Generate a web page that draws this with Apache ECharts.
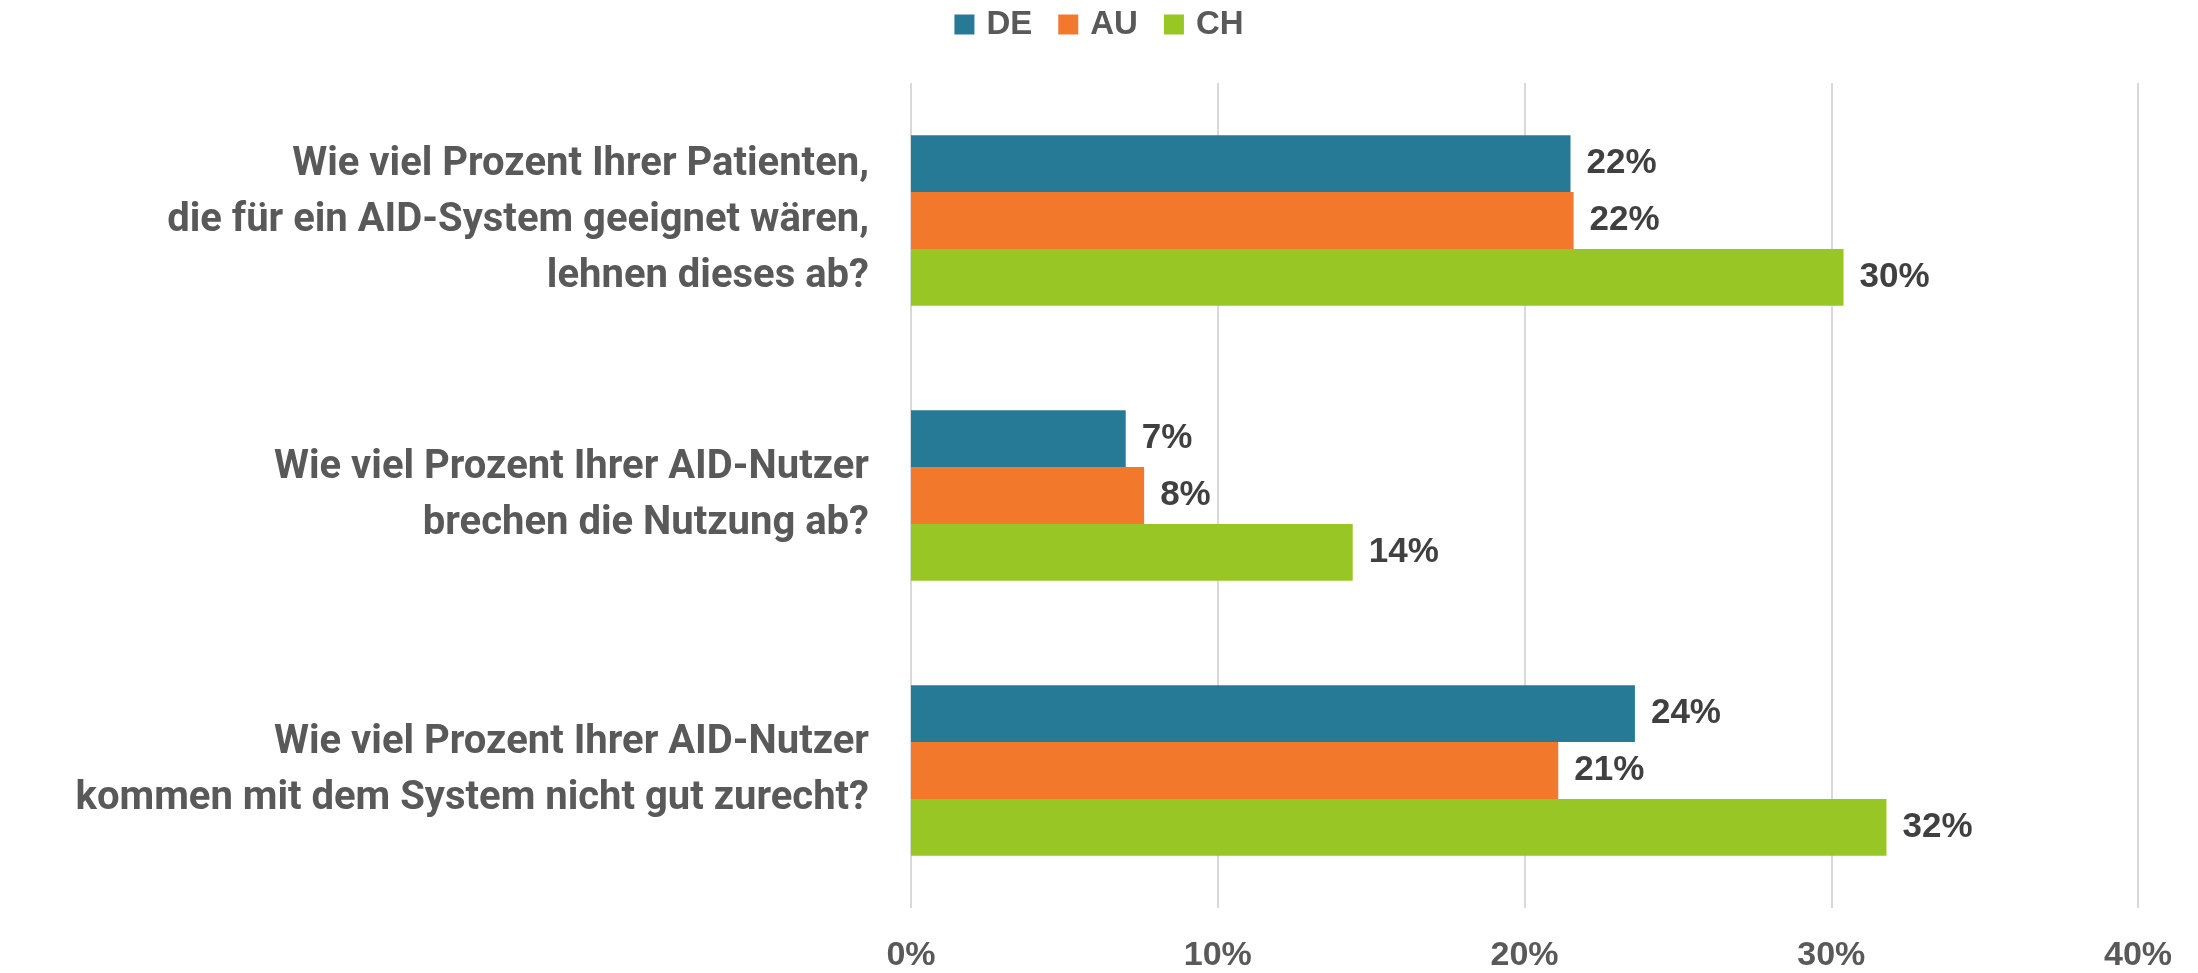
<!DOCTYPE html>
<html>
<head>
<meta charset="utf-8">
<script src="https://cdn.jsdelivr.net/npm/echarts@6/dist/echarts.min.js"></script>
<style>
  html, body { margin: 0; padding: 0; background: #fff; }
  #chart { width: 2198px; height: 973px; }
</style>
</head>
<body>
<div id="chart"></div>
<script>
// Fragen (von oben nach unten)
var categories = [
  'Wie viel Prozent Ihrer Patienten,\ndie für ein AID-System geeignet wären,\nlehnen dieses ab?',
  'Wie viel Prozent Ihrer AID-Nutzer\nbrechen die Nutzung ab?',
  'Wie viel Prozent Ihrer AID-Nutzer\nkommen mit dem System nicht gut zurecht?'
];
var seriesNames = ['DE', 'AU', 'CH'];
var valuesDE = [21.5, 7.0, 23.6];
var valuesAU = [21.6, 7.6, 21.1];
var valuesCH = [30.4, 14.4, 31.8];
var xTicks = [0, 10, 20, 30, 40];

var colors = ['#277A96', '#F2792B', '#97C625'];
var data = [valuesDE, valuesAU, valuesCH];

var myChart = echarts.init(document.getElementById('chart'));

var option = {
  animation: false,
  color: colors,
  textStyle: { fontFamily: 'Liberation Sans, Arial, sans-serif' },
  legend: {
    data: seriesNames,
    top: 3,
    left: 'center',
    icon: 'rect',
    itemWidth: 20,
    itemHeight: 20,
    itemGap: 26,
    textStyle: { fontSize: 33, fontWeight: 'bold', color: '#595959', padding: [0, 0, 0, 7] }
  },
  grid: { left: 911, right: 60, top: 83, bottom: 62, containLabel: false },
  xAxis: {
    type: 'value',
    min: xTicks[0],
    max: xTicks[xTicks.length - 1],
    interval: 10,
    axisLine: { show: false },
    axisTick: { show: false },
    splitLine: { lineStyle: { color: '#D9D9D9', width: 2 } },
    axisLabel: {
      margin: 31,
      fontSize: 34,
      fontWeight: 'bold',
      color: '#595959',
      formatter: function (v) { return v + '%'; }
    }
  },
  yAxis: {
    type: 'category',
    inverse: true,
    data: categories,
    axisLine: { show: false },
    axisTick: { show: false },
    axisLabel: {
      margin: 42,
      fontSize: 40,
      fontWeight: 'bold',
      fontFamily: 'Roboto',
      lineHeight: 56,
      align: 'right',
      color: '#595959',
      padding: [6, 0, 0, 0]
    }
  },
  series: seriesNames.map(function (name, i) {
    return {
      name: name,
      type: 'bar',
      data: data[i],
      barGap: 0,
      barCategoryGap: '38%',
      itemStyle: { color: colors[i] },
      label: {
        show: true,
        position: 'right',
        distance: 16,
        fontSize: 35,
        fontWeight: 'bold',
        color: '#404040',
        formatter: function (p) { return Math.round(p.value) + '%'; }
      }
    };
  })
};

myChart.setOption(option);
</script>
</body>
</html>
